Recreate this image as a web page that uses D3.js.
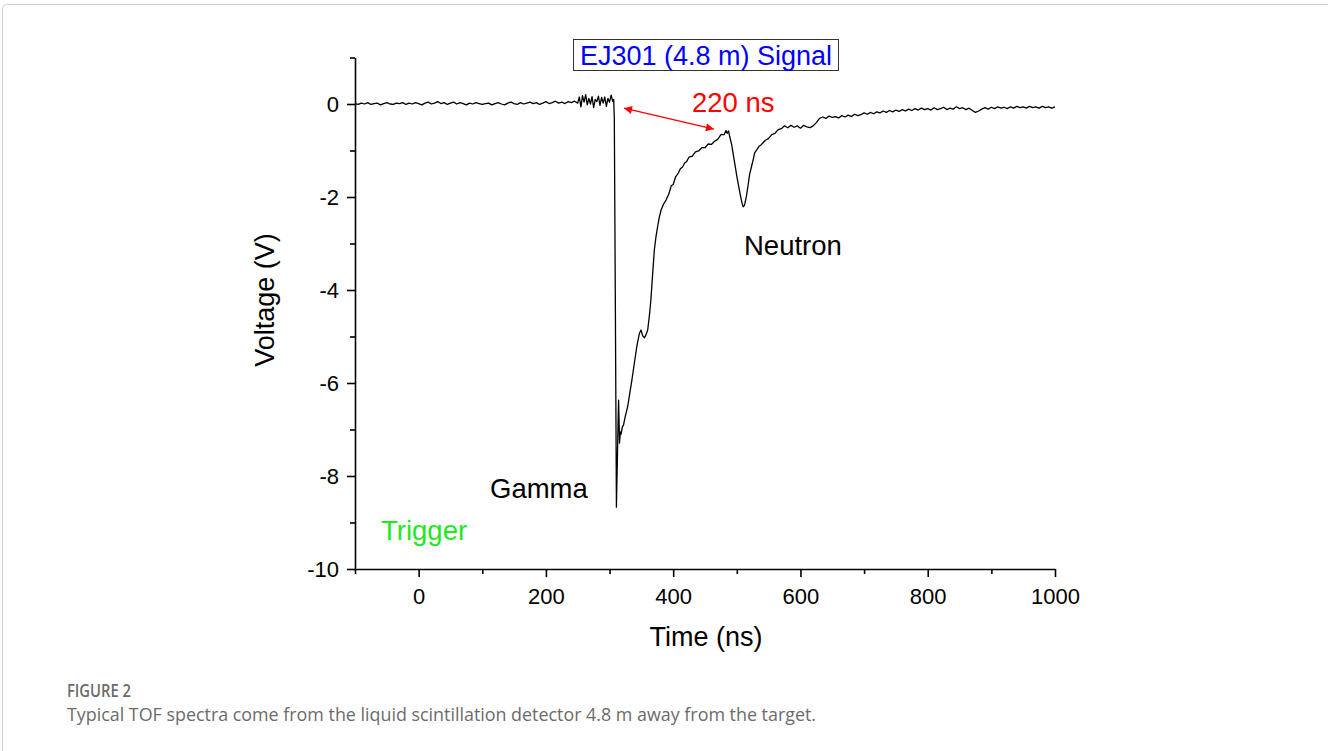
<!DOCTYPE html>
<html>
<head>
<meta charset="utf-8">
<title>TOF spectrum EJ301</title>
<script src="https://cdn.jsdelivr.net/npm/d3@7/dist/d3.min.js"></script>
<style>
body { margin: 0; background: #fff; }
svg { display: block; }
.tick text { font-family: "Liberation Sans", Arial, sans-serif; }
</style>
</head>
<body>
<svg id="fig" width="1328" height="751"></svg>
<script>
// waveform, [time ns, voltage V]
const preTrigger = [
  [-100,0.01],[-95,-0.01],[-90,0.02],[-85,0.00],[-80,0.03],[-75,-0.01],[-70,0.01],[-65,0.02],[-60,-0.02],[-55,0.01],
  [-50,0.03],[-45,0.00],[-40,-0.01],[-35,0.02],[-30,0.01],[-25,0.03],[-20,-0.01],[-15,0.02],[-10,0.00],[-5,0.03],
  [0,0.01],[5,-0.02],[10,0.02],[15,0.04],[20,0.00],[25,0.02],[30,0.05],[35,0.01],[40,0.03],[45,-0.01],
  [50,0.02],[55,0.04],[60,0.00],[65,0.03],[70,0.01],[75,-0.02],[80,0.02],[85,0.00],[90,0.03],[95,0.01],
  [100,-0.01],[105,0.01],[110,0.02],[115,-0.02],[120,0.01],[125,0.03],[130,0.00],[135,-0.02],[140,0.02],[145,0.04],
  [150,0.01],[155,-0.01],[160,0.03],[165,0.00],[170,0.02],[175,0.04],[180,0.01],[185,0.03],[190,-0.01],[195,0.02],
  [200,0.05],[205,0.01],[210,0.03],[215,0.06],[220,0.02],[225,0.04],[230,0.01],[235,0.05],[240,0.03],[245,0.06],
  [250,0.02],[252.5,0.15],[255,-0.06],[257.5,0.18],[260,0.04],[262.5,0.20],[265,-0.02],[267.5,0.12],[270,0.00],[272.5,0.16],
  [275,-0.08],[277.5,0.10],[280,0.05],[282.5,0.17],[285,-0.03],[287.5,0.14],[290,0.02],[292.5,0.15],[295,-0.05],[297.5,0.12],
  [300,0.04],[302.5,0.19],[305,0.06],[306.5,0.10]
];
const gammaPulse = [
  [307.5,-0.3],[309,-4.0],[310.8,-8.67],[312.5,-7.5],[313.5,-6.8],[314.2,-6.37],[315.7,-7.29],[317,-7.05],[318.2,-7.1],[320,-6.95],
  [322,-6.9],[325,-6.7],[328.6,-6.5],[332,-6.2],[335,-5.95],[339,-5.57],[343,-5.2],[347,-4.93],[349.5,-4.86],[352,-4.98],
  [354.7,-5.03],[357,-4.97],[360,-4.86],[363,-4.5],[365,-4.21],[368,-3.6],[370.4,-3.14],[373,-2.85],[375.5,-2.64],[378,-2.45],
  [381,-2.28],[385,-2.15],[389,-2.06],[393,-1.94],[396.9,-1.76],[400,-1.73],[404,-1.56],[407.5,-1.50],[411,-1.40],[415,-1.35],
  [418,-1.27],[421,-1.24],[425,-1.14],[430,-1.12],[435,-1.03],[440,-1.01],[445,-0.94],[450,-0.94],[455,-0.86],[460,-0.87],
  [465,-0.80],[470,-0.76],[475,-0.66],[480,-0.66],[483,-0.57],[485,-0.63],[487,-0.58],[489,-0.71]
];
const neutronPulse = [
  [492,-0.88],[494,-1.05],[497,-1.3],[500,-1.55],[502,-1.70],[505,-1.92],[508,-2.12],[510,-2.21],[512,-2.18],[515,-1.99],
  [518,-1.72],[520,-1.52],[523,-1.35],[526,-1.18],[528,-1.05],[531,-0.99],[535,-0.91],[538,-0.88]
];
const tail = [
  [540,-0.85],[545,-0.78],[550,-0.74],[555,-0.66],[560,-0.63],[565,-0.55],[570,-0.53],[575,-0.47],[580,-0.51],[585,-0.46],
  [590,-0.50],[595,-0.47],[600,-0.52],[605,-0.46],[610,-0.49],[615,-0.51],[620,-0.47],[625,-0.40],[630,-0.31],[635,-0.28],
  [640,-0.31],[645,-0.26],[650,-0.29],[655,-0.27],[660,-0.30],[665,-0.25],[670,-0.28],[675,-0.24],[680,-0.27],[685,-0.22],
  [690,-0.25],[695,-0.23],[700,-0.19],[705,-0.22],[710,-0.18],[715,-0.21],[720,-0.17],[725,-0.19],[730,-0.15],[735,-0.18],
  [740,-0.14],[745,-0.17],[750,-0.13],[755,-0.16],[760,-0.12],[765,-0.15],[770,-0.11],[775,-0.14],[780,-0.10],[785,-0.13],
  [790,-0.09],[795,-0.12],[800,-0.10],[805,-0.13],[810,-0.08],[815,-0.12],[820,-0.10],[825,-0.07],[830,-0.12],[835,-0.09],
  [840,-0.11],[845,-0.06],[850,-0.10],[855,-0.08],[860,-0.12],[865,-0.09],[870,-0.14],[875,-0.18],[880,-0.15],[885,-0.11],
  [890,-0.08],[895,-0.11],[900,-0.07],[905,-0.10],[910,-0.06],[915,-0.09],[920,-0.07],[925,-0.10],[930,-0.06],[935,-0.09],
  [940,-0.05],[945,-0.08],[950,-0.06],[955,-0.09],[960,-0.05],[965,-0.08],[970,-0.06],[975,-0.09],[980,-0.05],[985,-0.08],
  [990,-0.06],[995,-0.09],[1000,-0.06]
];

const xMajor = [0, 200, 400, 600, 800, 1000];
const xMinor = [-100, 100, 300, 500, 700, 900];
const yMajor = [0, -2, -4, -6, -8, -10];
const yMinor = [1, -1, -3, -5, -7, -9];

// ends of the 220 ns arrow in data units
const gammaArrow = [[322.7, -0.09], [464, -0.54]];

const font = '"Liberation Sans", Arial, sans-serif';
const capFont = '"Open Sans", sans-serif';
const svg = d3.select('#fig');

// outer figure frame
svg.append('rect')
  .attr('x', 2.5).attr('y', 4.5)
  .attr('width', 1340).attr('height', 800)
  .attr('rx', 4)
  .attr('fill', 'none')
  .attr('stroke', '#cfcfcf');

const x = d3.scaleLinear().domain([-100, 1000]).range([355, 1055]);
const y = d3.scaleLinear().domain([-10, 1]).range([569, 57.5]);
const plain = d => String(d);   // keep "-2" and "1000" like the original

const g = svg.append('g');

// axes: majors with labels, minors without
g.append('g')
  .attr('transform', `translate(0,${y(-10)})`)
  .call(d3.axisBottom(x).tickValues(xMajor).tickFormat(plain).tickSize(8).tickSizeOuter(0).tickPadding(11))
  .call(a => a.selectAll('text').attr('font-size', 22).attr('fill', '#000'));
g.append('g')
  .attr('transform', `translate(0,${y(-10)})`)
  .call(d3.axisBottom(x).tickValues(xMinor).tickSize(5).tickSizeOuter(0).tickFormat(''))
  .call(a => a.select('.domain').remove());

g.append('g')
  .attr('transform', `translate(${x(-100)},0)`)
  .call(d3.axisLeft(y).tickValues(yMajor).tickFormat(plain).tickSize(8).tickSizeOuter(0).tickPadding(8))
  .call(a => a.selectAll('text').attr('font-size', 22).attr('fill', '#000'));
g.append('g')
  .attr('transform', `translate(${x(-100)},0)`)
  .call(d3.axisLeft(y).tickValues(yMinor).tickSize(5).tickSizeOuter(0).tickFormat(''))
  .call(a => a.select('.domain').remove());

g.selectAll('.domain, .tick line').attr('stroke', '#000').attr('stroke-width', 1.6);

// trace
const trace = preTrigger.concat(gammaPulse, neutronPulse, tail);
const line = d3.line().x(d => x(d[0])).y(d => y(d[1]));
g.append('path')
  .datum(trace)
  .attr('d', line)
  .attr('fill', 'none')
  .attr('stroke', '#000')
  .attr('stroke-width', 1.3)
  .attr('stroke-linejoin', 'round');

// axis titles
svg.append('text')
  .attr('x', 706).attr('y', 646)
  .attr('text-anchor', 'middle')
  .attr('font-family', font).attr('font-size', 27)
  .text('Time (ns)');
svg.append('text')
  .attr('transform', 'translate(274,300) rotate(-90)')
  .attr('text-anchor', 'middle')
  .attr('font-family', font).attr('font-size', 27)
  .text('Voltage (V)');

// title box
svg.append('rect')
  .attr('x', 573.5).attr('y', 39.5).attr('width', 265).attr('height', 31)
  .attr('fill', '#fff').attr('stroke', '#333').attr('stroke-width', 1);
svg.append('text')
  .attr('x', 706).attr('y', 65)
  .attr('text-anchor', 'middle')
  .attr('font-family', font).attr('font-size', 27)
  .attr('fill', '#0000ff')
  .text('EJ301 (4.8 m) Signal');

// 220 ns double arrow
svg.append('defs').append('marker')
  .attr('id', 'head')
  .attr('viewBox', '0 0 10 10')
  .attr('refX', 10).attr('refY', 5)
  .attr('markerWidth', 11).attr('markerHeight', 8)
  .attr('markerUnits', 'userSpaceOnUse')
  .attr('orient', 'auto-start-reverse')
  .append('path').attr('d', 'M0,0L10,5L0,10z').attr('fill', '#ff0000');
svg.append('line')
  .attr('x1', x(gammaArrow[0][0])).attr('y1', y(gammaArrow[0][1]))
  .attr('x2', x(gammaArrow[1][0])).attr('y2', y(gammaArrow[1][1]))
  .attr('stroke', '#ff0000').attr('stroke-width', 1.4)
  .attr('marker-start', 'url(#head)')
  .attr('marker-end', 'url(#head)');
svg.append('text')
  .attr('x', 692).attr('y', 112)
  .attr('font-family', font).attr('font-size', 27.5)
  .attr('fill', '#ff0000')
  .text('220 ns');

// peak labels
svg.append('text')
  .attr('x', 744).attr('y', 255)
  .attr('font-family', font).attr('font-size', 27.5)
  .text('Neutron');
svg.append('text')
  .attr('x', 490).attr('y', 498)
  .attr('font-family', font).attr('font-size', 27.5)
  .text('Gamma');
svg.append('text')
  .attr('x', 381).attr('y', 540)
  .attr('font-family', font).attr('font-size', 27.5)
  .attr('fill', '#1ee81e')
  .text('Trigger');

// caption
svg.append('text')
  .attr('x', 67).attr('y', 697)
  .attr('font-family', capFont).attr('font-size', 18)
  .attr('font-weight', 600)
  .attr('fill', '#6b6b6b')
  .attr('textLength', 64)
  .attr('lengthAdjust', 'spacingAndGlyphs')
  .text('FIGURE 2');
svg.append('text')
  .attr('x', 67).attr('y', 721)
  .attr('font-family', capFont).attr('font-size', 17.5)
  .attr('fill', '#6b6b6b')
  .attr('textLength', 749)
  .attr('lengthAdjust', 'spacingAndGlyphs')
  .text('Typical TOF spectra come from the liquid scintillation detector 4.8 m away from the target.');
</script>
</body>
</html>
